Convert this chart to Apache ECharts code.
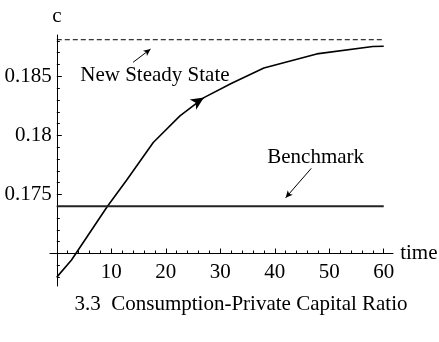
<!DOCTYPE html>
<html>
<head>
<meta charset="utf-8">
<script src="https://cdn.jsdelivr.net/npm/echarts@6/dist/echarts.min.js"></script>
<style>
  html, body { margin: 0; padding: 0; background: #fff; }
  #chart { width: 439px; height: 342px; }
</style>
</head>
<body>
<div id="chart"></div>
<script>
// Consumption / private-capital ratio after the shock
const time = [0, 2.7, 9.3, 12.8, 17.7, 22.6, 27, 32, 38, 47.7, 58, 60];
const consumption = [0.1680, 0.16945, 0.1740, 0.1762, 0.1794, 0.18165, 0.1832, 0.1844, 0.1857, 0.1869, 0.18753, 0.18755];

const newSteadyState = 0.1881;
const benchmark = 0.1740;
const horizon = [0, 60];

const xTickLabels = [10, 20, 30, 40, 50, 60];
const xMinorTicks = [2, 4, 6, 8, 12, 14, 16, 18, 22, 24, 26, 28, 32, 34, 36, 38, 42, 44, 46, 48, 52, 54, 56, 58];
const yTickLabels = [0.175, 0.18, 0.185];
const yMinorTicks = [0.168, 0.169, 0.171, 0.172, 0.173, 0.174, 0.176, 0.177, 0.178, 0.179,
                     0.181, 0.182, 0.183, 0.184, 0.186, 0.187, 0.188];

const FONT = 'Liberation Serif';
const FS = 21;

// time axis runs slightly past both ends; it crosses the c axis at c = 0.17
const xRange = { min: -1.25, max: 61.7 };
const cTop = 0.1885;
const cCross = 0.17;
const cBottom = 0.16725;

const W = 439, H = 342;
const plotLeft = 50, plotRight = 46, plotTop = 35, axisBottomY = 286;
// pixel height per unit of c, shared by both grids
const pxPerC = (axisBottomY - plotTop) / (cTop - cBottom);
const crossY = plotTop + (cTop - cCross) * pxPerC;
const pxPerT = (W - plotLeft - plotRight) / (xRange.max - xRange.min);
const cAxisX = plotLeft - xRange.min * pxPerT;

const curve = time.map((t, i) => [t, consumption[i]]);
const arrowIdx = time.indexOf(27);

const chart = echarts.init(document.getElementById('chart'), null, { renderer: 'canvas' });

const labelStyle = { fontFamily: FONT, fontSize: FS, color: '#000' };

const option = {
  animation: false,
  backgroundColor: '#fff',
  textStyle: { fontFamily: FONT, color: '#000' },
  grid: [
    // plotting area: its bottom edge is the time axis
    { left: plotLeft, right: plotRight, top: plotTop, bottom: H - crossY, containLabel: false, outerBoundsMode: 'none' },
    // full-height c axis
    { left: cAxisX, right: plotRight, top: plotTop, bottom: H - axisBottomY, containLabel: false, outerBoundsMode: 'none' }
  ],
  xAxis: [
    {
      gridIndex: 0, type: 'value', position: 'bottom', min: xRange.min, max: xRange.max,
      axisLine: { onZero: false, lineStyle: { color: '#000', width: 1 } },
      axisTick: { show: true, inside: true, length: 5, customValues: xTickLabels, lineStyle: { color: '#000' } },
      axisLabel: Object.assign({ show: true, customValues: xTickLabels, margin: 8 }, labelStyle),
      splitLine: { show: false },
      name: 'time', nameLocation: 'end', nameGap: 6,
      nameTextStyle: Object.assign({ verticalAlign: 'middle' }, labelStyle)
    },
    {
      gridIndex: 0, type: 'value', position: 'bottom', min: xRange.min, max: xRange.max,
      axisLine: { show: false, onZero: false },
      axisTick: { show: true, inside: true, length: 3, customValues: xMinorTicks, lineStyle: { color: '#000' } },
      axisLabel: { show: false },
      splitLine: { show: false }
    },
    {
      gridIndex: 1, type: 'value', show: false, min: 0, max: 1
    }
  ],
  yAxis: [
    {
      gridIndex: 0, type: 'value', show: false, min: cCross, max: cTop,
      axisLine: { onZero: false }, splitLine: { show: false }
    },
    {
      gridIndex: 1, type: 'value', position: 'left', min: cBottom, max: cTop,
      axisLine: { show: true, onZero: false, lineStyle: { color: '#000', width: 1 } },
      axisTick: { show: true, inside: true, length: 5, customValues: yTickLabels, lineStyle: { color: '#000' } },
      axisLabel: Object.assign({ show: true, customValues: yTickLabels, margin: 5, formatter: v => String(parseFloat(v.toFixed(4))) }, labelStyle),
      splitLine: { show: false },
      name: 'c', nameLocation: 'end', nameGap: 8,
      nameTextStyle: Object.assign({ align: 'center' }, labelStyle)
    },
    {
      gridIndex: 1, type: 'value', position: 'left', min: cBottom, max: cTop,
      axisLine: { show: false, onZero: false },
      axisTick: { show: true, inside: true, length: 3, customValues: yMinorTicks, lineStyle: { color: '#000' } },
      axisLabel: { show: false },
      splitLine: { show: false }
    }
  ],
  series: [
    {
      name: 'transition', type: 'line', xAxisIndex: 0, yAxisIndex: 0,
      data: curve, showSymbol: false, symbol: 'none', clip: false,
      lineStyle: { color: '#000', width: 1.6 },
      markPoint: {
        silent: true,
        data: [{
          coord: curve[arrowIdx], symbol: 'arrow', symbolSize: [9, 13], symbolRotate: -57,
          itemStyle: { color: '#000' }, label: { show: false }
        }]
      }
    },
    {
      name: 'new steady state', type: 'line', xAxisIndex: 0, yAxisIndex: 0,
      data: horizon.map(t => [t, newSteadyState]), symbol: 'none', clip: false,
      lineStyle: { color: '#000', width: 1, type: [5, 3] },
      markLine: {
        silent: true, symbol: ['none', 'arrow'], symbolSize: [5, 7],
        lineStyle: { color: '#000', width: 1, type: 'solid' }, label: { show: false },
        data: [[{ coord: [14.0, 0.18619] }, { coord: [17.2, 0.18731] }]]
      },
      markPoint: {
        silent: true, symbol: 'circle', symbolSize: 1, itemStyle: { color: 'rgba(0,0,0,0)' },
        label: Object.assign({ show: true, position: 'inside', formatter: 'New Steady State' }, labelStyle),
        data: [{ coord: [18.0, 0.18511] }]
      }
    },
    {
      name: 'benchmark', type: 'line', xAxisIndex: 0, yAxisIndex: 0,
      data: horizon.map(t => [t, benchmark]), symbol: 'none', clip: false,
      lineStyle: { color: '#222', width: 2 },
      markLine: {
        silent: true, symbol: ['none', 'arrow'], symbolSize: [5, 7],
        lineStyle: { color: '#000', width: 1, type: 'solid' }, label: { show: false },
        data: [[{ coord: [46.7, 0.17721] }, { coord: [42.0, 0.17472] }]]
      },
      markPoint: {
        silent: true, symbol: 'circle', symbolSize: 1, itemStyle: { color: 'rgba(0,0,0,0)' },
        label: Object.assign({ show: true, position: 'inside', formatter: 'Benchmark' }, labelStyle),
        data: [{ coord: [47.5, 0.17817] }]
      }
    }
  ],
  graphic: [{
    type: 'text', x: 241, y: 304,
    style: {
      text: '3.3  Consumption-Private Capital Ratio',
      font: FS + 'px "' + FONT + '"', fill: '#000', align: 'center', verticalAlign: 'middle'
    }
  }]
};

chart.setOption(option);

// Orient the arrowhead along the curve
const p1 = chart.convertToPixel({ seriesIndex: 0 }, curve[arrowIdx - 1]);
const p2 = chart.convertToPixel({ seriesIndex: 0 }, curve[arrowIdx + 1]);
const ang = Math.atan2(-(p2[1] - p1[1]), p2[0] - p1[0]) * 180 / Math.PI;
chart.setOption({
  series: [{
    name: 'transition',
    markPoint: { data: [{ coord: curve[arrowIdx], symbol: 'arrow', symbolSize: [9, 13], symbolRotate: ang - 90, itemStyle: { color: '#000' }, label: { show: false } }] }
  }]
});
</script>
</body>
</html>
